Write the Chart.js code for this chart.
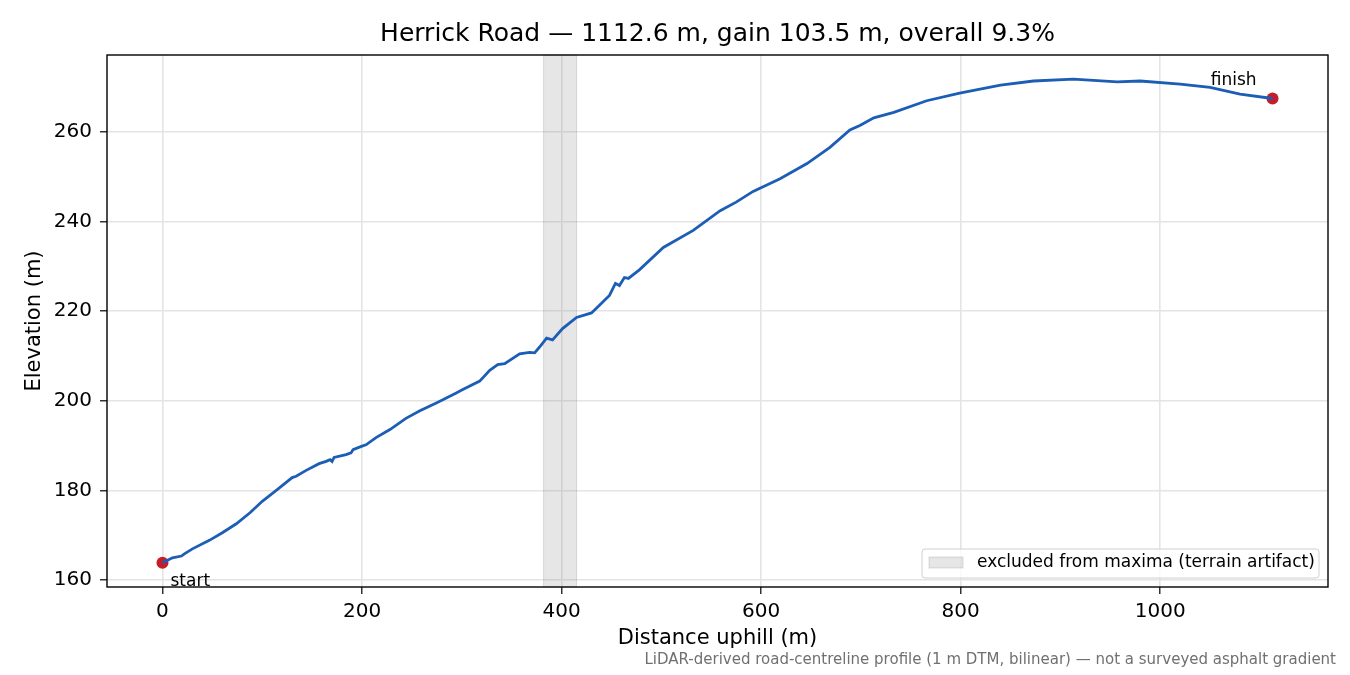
<!DOCTYPE html>
<html>
<head>
<meta charset="utf-8">
<script src="https://cdn.jsdelivr.net/npm/chart.js@4/dist/chart.umd.min.js"></script>
<style>
  html, body { margin: 0; padding: 0; background: #fff; }
  #wrap { width: 1350px; height: 675px; position: relative; }
</style>
</head>
<body>
<div id="wrap"><canvas id="profile" width="1350" height="675"></canvas></div>
<script>
const titleText = 'Herrick Road \u2014 1112.6 m, gain 103.5 m, overall 9.3%';
const footText = 'LiDAR-derived road-centreline profile (1 m DTM, bilinear) \u2014 not a surveyed asphalt gradient';

// distance uphill (m) and elevation (m)
const distance = [0, 10, 19, 22, 30, 47, 60, 74, 88, 100, 115, 130, 134, 144, 157, 164, 168, 170, 172, 184,
  189, 191, 200, 204, 214, 228, 244, 258, 275, 294, 300, 318, 328, 336, 343, 358, 368, 373, 378, 385,
  391, 401, 415, 430, 438, 448, 454, 458, 463, 467, 478, 502, 532, 559, 575, 592, 619, 646, 669, 689,
  699, 713, 733, 766, 799, 840, 873, 913, 957, 980, 1020, 1050, 1080, 1112.6];
const elevation = [163.9, 165.0, 165.4, 165.9, 167.0, 168.9, 170.6, 172.6, 175.1, 177.6, 180.2, 182.9, 183.2, 184.5, 186.0, 186.5, 186.9, 186.5, 187.4, 188.0,
  188.4, 189.1, 189.9, 190.2, 191.8, 193.6, 196.1, 197.8, 199.6, 201.7, 202.4, 204.4, 206.8, 208.1, 208.3, 210.5, 210.8, 210.7, 212.0, 214.0,
  213.6, 216.1, 218.6, 219.6, 221.3, 223.5, 226.2, 225.7, 227.5, 227.3, 229.2, 234.2, 238.0, 242.4, 244.3, 246.7, 249.5, 252.9, 256.5, 260.4,
  261.4, 263.1, 264.3, 266.9, 268.6, 270.4, 271.3, 271.7, 271.1, 271.3, 270.6, 269.9, 268.4, 267.4];

const excluded = [382, 415];   // excluded from maxima
const xTicks = [0, 200, 400, 600, 800, 1000];
const yTicks = [160, 180, 200, 220, 240, 260];

const lastIdx = distance.length - 1;
const profile = distance.map((d, i) => ({x: d, y: elevation[i]}));
const ends = [{x: distance[0], y: elevation[0]}, {x: distance[lastIdx], y: elevation[lastIdx]}];

const FONT = 'DejaVu Sans';

const extras = {
  id: 'extras',
  beforeDatasetsDraw(chart) {
    const {ctx, chartArea: a, scales: {x}} = chart;
    const x0 = x.getPixelForValue(excluded[0]);
    const x1 = x.getPixelForValue(excluded[1]);
    ctx.save();
    ctx.fillStyle = 'rgba(128,128,128,0.2)';
    ctx.fillRect(x0, a.top, x1 - x0, a.bottom - a.top);
    ctx.strokeStyle = 'rgba(128,128,128,0.25)';
    ctx.lineWidth = 1;
    ctx.strokeRect(x0, a.top, x1 - x0, a.bottom - a.top);
    ctx.restore();
  },
  afterDraw(chart) {
    const {ctx, chartArea: a, scales: {x, y}} = chart;
    ctx.save();
    // frame
    ctx.strokeStyle = '#000';
    ctx.lineWidth = 1.4;
    ctx.strokeRect(a.left, a.top, a.right - a.left, a.bottom - a.top);

    // title
    ctx.fillStyle = '#000';
    ctx.font = '25px "' + FONT + '"';
    ctx.textAlign = 'center';
    ctx.textBaseline = 'middle';
    ctx.fillText(titleText, (a.left + a.right) / 2, 34);

    // start / finish
    ctx.font = '17px "' + FONT + '"';
    ctx.textAlign = 'left';
    ctx.fillText('start', x.getPixelForValue(ends[0].x) + 8, y.getPixelForValue(ends[0].y) + 19);
    ctx.textAlign = 'right';
    ctx.fillText('finish', x.getPixelForValue(ends[1].x) - 16, y.getPixelForValue(ends[1].y) - 18);

    // legend box
    const lx = a.right - 406, ly = a.bottom - 38, lw = 397, lh = 29;
    ctx.fillStyle = 'rgba(255,255,255,0.8)';
    ctx.strokeStyle = '#d0d0d0';
    ctx.lineWidth = 1;
    ctx.beginPath();
    ctx.roundRect(lx, ly, lw, lh, 3);
    ctx.fill();
    ctx.stroke();
    ctx.fillStyle = 'rgba(128,128,128,0.2)';
    ctx.fillRect(lx + 7, ly + 8, 34, 11);
    ctx.strokeStyle = 'rgba(128,128,128,0.25)';
    ctx.strokeRect(lx + 7, ly + 8, 34, 11);
    ctx.fillStyle = '#000';
    ctx.font = '17px "' + FONT + '"';
    ctx.textAlign = 'left';
    ctx.fillText('excluded from maxima (terrain artifact)', lx + 55, ly + 14);

    // footnote
    ctx.fillStyle = '#707070';
    ctx.font = '15px "' + FONT + '"';
    ctx.textAlign = 'right';
    ctx.fillText(footText, 1336, 660);
    ctx.restore();
  }
};

new Chart(document.getElementById('profile'), {
  type: 'line',
  data: {
    datasets: [{
      data: profile,
      borderColor: '#1c5db5',
      borderWidth: 2.8,
      pointRadius: 0,
      tension: 0,
      fill: false
    }, {
      data: ends,
      showLine: false,
      pointRadius: 6,
      pointBackgroundColor: '#c41e2a',
      pointBorderColor: '#c41e2a',
      pointBorderWidth: 0
    }]
  },
  options: {
    responsive: false,
    animation: false,
    devicePixelRatio: 1,
    layout: {padding: {left: 0, top: 55, right: 22, bottom: 0}},
    plugins: {legend: {display: false}, tooltip: {enabled: false}, title: {display: false}},
    scales: {
      x: {
        type: 'linear',
        min: -55.6, max: 1168.2,
        afterFit(s) { s.height = 88; },
        afterBuildTicks(s) { s.ticks = xTicks.map(v => ({value: v})); },
        ticks: {color: '#000', font: {family: FONT, size: 20}, padding: 6, maxRotation: 0, callback: v => String(v)},
        grid: {color: '#e4e4e4', lineWidth: 1.6, tickColor: '#000', tickLength: 7, tickWidth: 1.2},
        border: {display: false},
        title: {display: true, text: 'Distance uphill (m)', color: '#000', font: {family: FONT, size: 21}, padding: {top: 0, bottom: 24}}
      },
      y: {
        type: 'linear',
        min: 158.5, max: 277.1,
        afterFit(s) { s.width = 107; },
        afterBuildTicks(s) { s.ticks = yTicks.map(v => ({value: v})); },
        ticks: {color: '#000', font: {family: FONT, size: 20}, padding: 8, callback: v => String(v)},
        grid: {color: '#e4e4e4', lineWidth: 1.6, tickColor: '#000', tickLength: 7, tickWidth: 1.2},
        border: {display: false},
        title: {display: true, text: 'Elevation (m)', color: '#000', font: {family: FONT, size: 21}, padding: {top: 22, bottom: 0}}
      }
    }
  },
  plugins: [extras]
});
</script>
</body>
</html>
